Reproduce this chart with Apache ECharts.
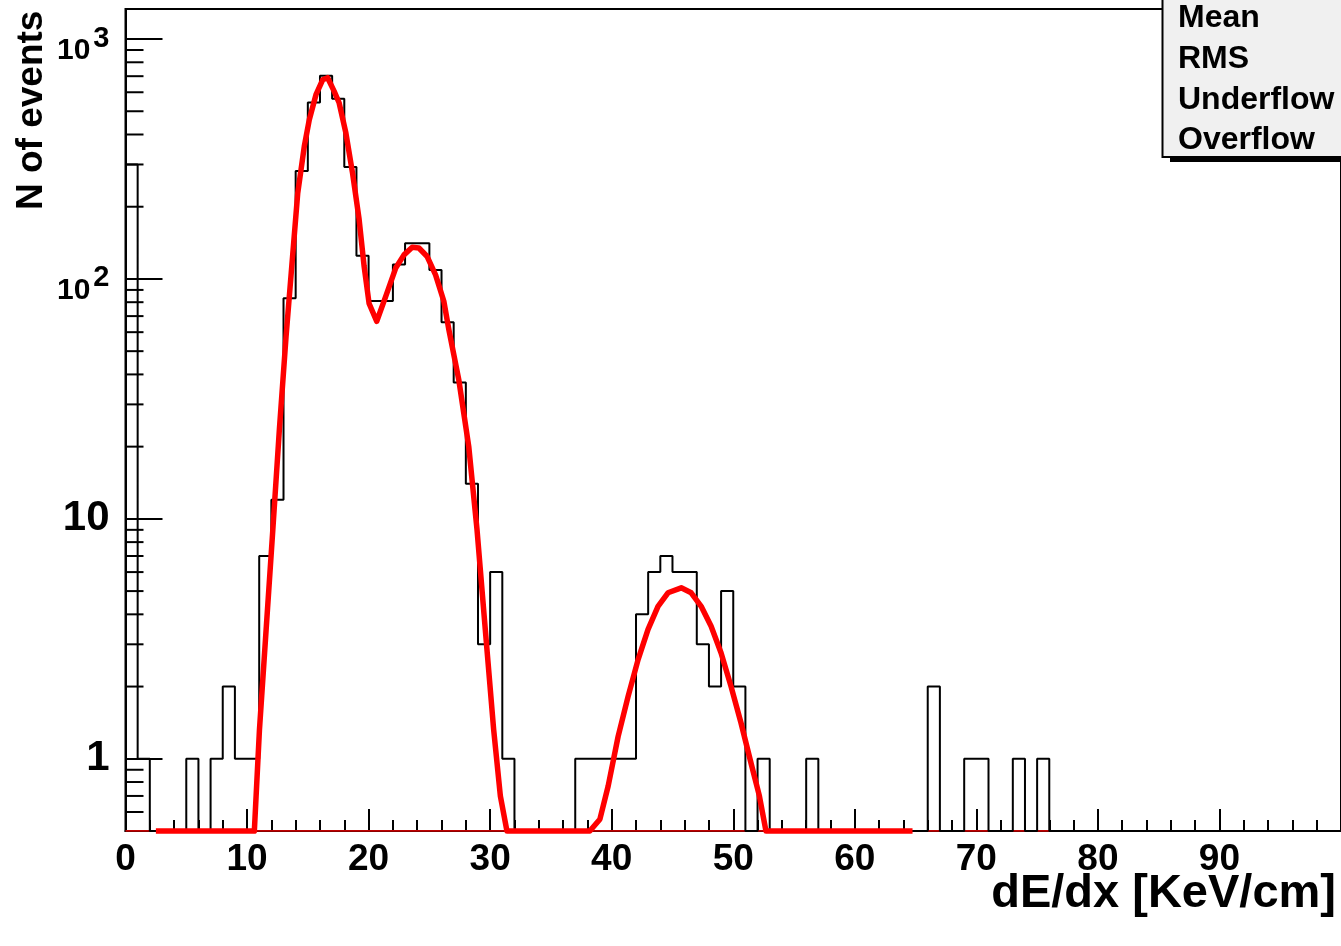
<!DOCTYPE html>
<html>
<head>
<meta charset="utf-8">
<script src="https://cdn.jsdelivr.net/npm/echarts@6/dist/echarts.min.js"></script>
<style>
  html, body { margin: 0; padding: 0; background: #ffffff; }
  #chart { width: 1341px; height: 946px; }
</style>
</head>
<body>
<div id="chart"></div>
<script>
// ---------------- data ----------------
const xTickLabels = [0, 10, 20, 30, 40, 50, 60, 70, 80, 90];
// histogram contents, bin width 1, bins [0,1) ... [99,100)
const binCounts = [
  300, 1, 0, 0, 0, 1, 0, 1, 2, 1,
  1, 7, 12, 83, 282, 544, 703, 564, 293, 125,
  81, 81, 115, 141, 141, 109, 66, 37, 14, 3,
  6, 1, 0, 0, 0, 0, 0, 1, 1, 1,
  1, 1, 4, 6, 7, 6, 6, 3, 2, 5,
  2, 0, 1, 0, 0, 0, 1, 0, 0, 0,
  0, 0, 0, 0, 0, 0, 2, 0, 0, 1,
  1, 0, 0, 1, 0, 1, 0, 0, 0, 0,
  0, 0, 0, 0, 0, 0, 0, 0, 0, 0,
  0, 0, 0, 0, 0, 0, 0, 0, 0, 0
];
// fitted function as drawn (0 = below the visible range)
const fitX = [2.5, 10.6, 11.02, 11.57, 12.12, 12.66, 13.21, 14.17, 14.71, 15.12,
  15.67, 16.22, 16.63, 17.17, 17.58, 18.13, 18.68, 19.22, 19.63, 20.04,
  20.67, 21.41, 22.23, 22.91, 23.59, 24.14, 24.82, 25.51, 26.19, 26.6,
  27.42, 28.24, 28.92, 29.6, 30.29, 30.84, 31.38, 38.2, 39.03, 39.71,
  40.53, 41.35, 42.17, 42.99, 43.81, 44.63, 45.72, 46.54, 47.36, 48.18,
  49.0, 49.82, 50.64, 51.46, 52.15, 52.69, 64.75];
const fitY = [0, 0, 1.32, 3.46, 9.0, 23.6, 57.6, 228, 357, 461,
  586, 676, 690, 605, 541, 406, 276, 177, 113, 79,
  66.6, 84.6, 111, 126, 135.5, 134.6, 124, 104, 80.7, 61.5,
  38, 20, 9.0, 3.46, 1.32, 0.70, 0, 0, 0.56, 0.77,
  1.24, 1.82, 2.59, 3.46, 4.32, 4.92, 5.16, 4.92, 4.32, 3.57,
  2.76, 2.0, 1.41, 0.96, 0.70, 0, 0];
const yMajorTicks = [1, 10, 100, 1000];
const yMinorTicks = [0.6, 0.7, 0.8, 0.9, 2, 3, 4, 5, 6, 7, 8, 9,
  20, 30, 40, 50, 60, 70, 80, 90, 200, 300, 400, 500, 600, 700, 800, 900];
const yRange = [0.5, 1334];
const xRange = [0, 100];
const statsLabels = ['Mean', 'RMS', 'Underflow', 'Overflow'];
const xTitle = 'dE/dx [KeV/cm]';
const yTitle = 'N of events';

// ---------------- build ----------------
const FONT = '"Liberation Sans", Arial, Helvetica, sans-serif';
const yMin = yRange[0];
const clampLow = v => (v > yMin ? v : yMin);

const histData = binCounts.map((v, i) => [i, clampLow(v)]);
histData.push([binCounts.length, clampLow(binCounts[binCounts.length - 1])]);
const fitData = fitX.map((x, i) => [x, clampLow(fitY[i])]);

const chart = echarts.init(document.getElementById('chart'), null, { renderer: 'canvas' });

const option = {
  backgroundColor: '#ffffff',
  animation: false,
  grid: {
    left: 125.5, top: 9, right: -4.5, bottom: 115,
    show: true, borderColor: '#000', borderWidth: 2, backgroundColor: 'transparent'
  },
  xAxis: {
    type: 'value', min: xRange[0], max: xRange[1], interval: 10,
    axisLine: { show: true, lineStyle: { color: '#000', width: 2 } },
    axisTick: { show: true, inside: true, length: 22, lineStyle: { color: '#000', width: 2 } },
    minorTick: { show: true, splitNumber: 5, length: 11, lineStyle: { color: '#000', width: 2 } },
    splitLine: { show: false },
    axisLabel: {
      show: true, margin: 10, color: '#000', fontFamily: FONT, fontWeight: 'bold', fontSize: 37,
      showMaxLabel: false,
      formatter: v => (xTickLabels.indexOf(v) >= 0 ? String(v) : '')
    }
  },
  yAxis: {
    type: 'log', logBase: 10, min: yRange[0], max: yRange[1],
    axisLine: { show: true, lineStyle: { color: '#000', width: 2 } },
    axisTick: { show: true, inside: true, length: 37, lineStyle: { color: '#000', width: 2 } },
    splitLine: { show: false },
    axisLabel: {
      show: true, margin: 16, color: '#000', fontFamily: FONT, fontWeight: 'bold', fontSize: 42,
      showMinLabel: false, showMaxLabel: false,
      formatter: function (v) {
        const r = Math.round(v);
        if (yMajorTicks.indexOf(r) < 0 || Math.abs(v - r) > 1e-6) return '';
        if (r >= 100) return '{b|10}{s|' + Math.round(Math.log10(r)) + '}';
        return '{p|' + r + '}';
      },
      rich: {
        p: { fontFamily: FONT, fontWeight: 'bold', fontSize: 42, color: '#000' },
        b: { fontFamily: FONT, fontWeight: 'bold', fontSize: 30, color: '#000', verticalAlign: 'bottom', padding: [24, 0, 0, 0] },
        s: { fontFamily: FONT, fontWeight: 'bold', fontSize: 29, color: '#000', verticalAlign: 'top', padding: [12, 0, 0, 3] }
      }
    }
  },
  series: [
    {
      name: 'baseline', type: 'line', symbol: 'none', silent: true,
      data: [[xRange[0], yMin], [xRange[1], yMin]],
      lineStyle: { color: '#ff0000', width: 1.5 }, z: 3
    },
    {
      name: 'histogram', type: 'line', step: 'end', symbol: 'none', clip: false,
      data: histData,
      lineStyle: { color: '#000', width: 2 }, z: 4
    },
    {
      name: 'fit', type: 'line', symbol: 'none', clip: false, smooth: false,
      data: fitData,
      lineStyle: { color: '#ff0000', width: 5.5, join: 'round', cap: 'butt' }, z: 5
    },
    {
      name: 'yMinorTicks', type: 'custom', silent: true, clip: false,
      data: yMinorTicks.map(v => [xRange[0], v]),
      renderItem: function (params, api) {
        const p = api.coord([api.value(0), api.value(1)]);
        return {
          type: 'line',
          shape: { x1: p[0], y1: p[1], x2: p[0] + 18, y2: p[1] },
          style: { stroke: '#000', lineWidth: 2 }
        };
      },
      z: 6
    }
  ],
  graphic: [
    {
      type: 'text', x: 32, y: 210, rotation: Math.PI / 2,
      style: { text: yTitle, fill: '#000', font: 'bold 37px ' + FONT, textAlign: 'left', textVerticalAlign: 'middle' }
    },
    {
      type: 'text', x: 1336, y: 894,
      style: { text: xTitle, fill: '#000', font: 'bold 47px ' + FONT, textAlign: 'right', textVerticalAlign: 'middle' }
    },
    { type: 'rect', shape: { x: 1170, y: 10, width: 200, height: 152 }, style: { fill: '#000' }, z: 10 },
    { type: 'rect', shape: { x: 1162.5, y: -5, width: 200, height: 162 }, style: { fill: '#f0f0f0', stroke: '#000', lineWidth: 2 }, z: 11 },
    { type: 'text', x: 1178, y: 18, style: { text: statsLabels[0], fill: '#000', font: 'bold 32px ' + FONT, textVerticalAlign: 'middle' }, z: 12 },
    { type: 'text', x: 1178, y: 59, style: { text: statsLabels[1], fill: '#000', font: 'bold 32px ' + FONT, textVerticalAlign: 'middle' }, z: 12 },
    { type: 'text', x: 1178, y: 100, style: { text: statsLabels[2], fill: '#000', font: 'bold 32px ' + FONT, textVerticalAlign: 'middle' }, z: 12 },
    { type: 'text', x: 1178, y: 140, style: { text: statsLabels[3], fill: '#000', font: 'bold 32px ' + FONT, textVerticalAlign: 'middle' }, z: 12 }
  ]
};
chart.setOption(option);
</script>
</body>
</html>
